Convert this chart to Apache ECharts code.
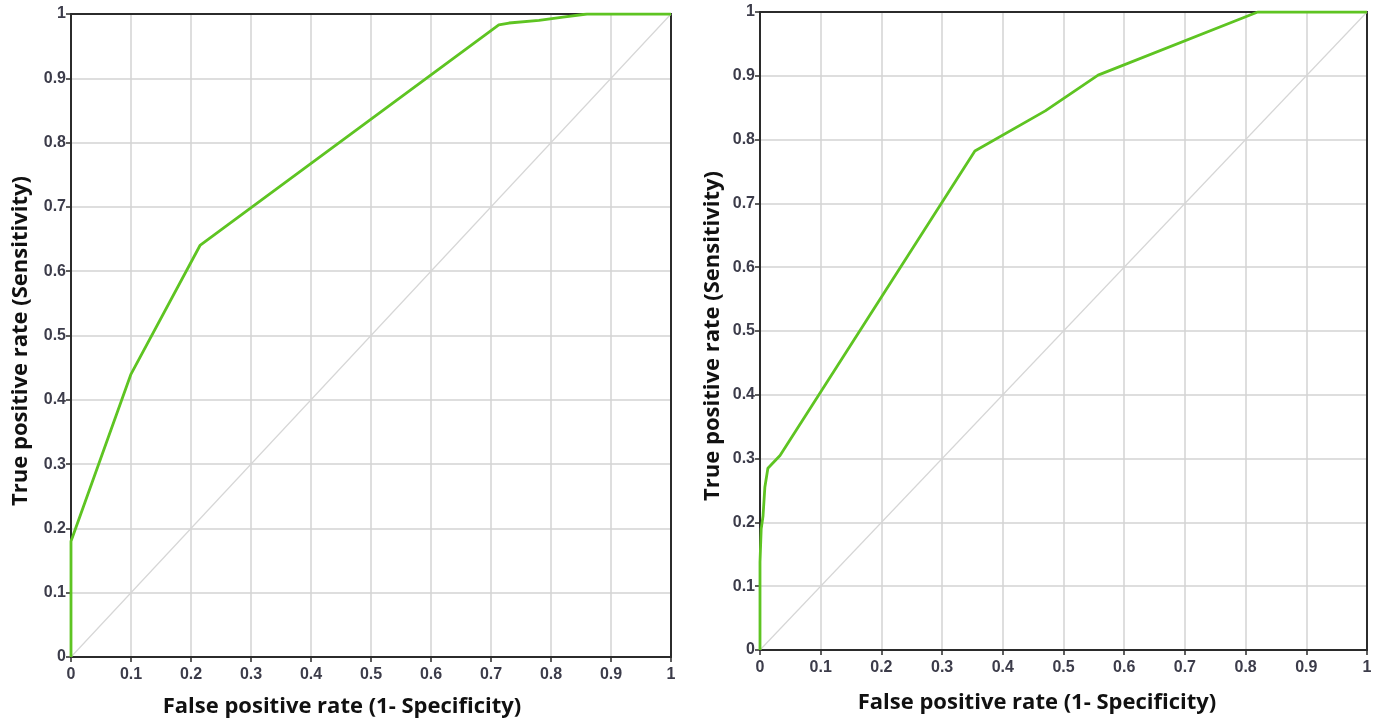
<!DOCTYPE html>
<html>
<head>
<meta charset="utf-8">
<style>
  html, body { margin: 0; padding: 0; background: #ffffff; }
  #chart { width: 1378px; height: 721px; }
</style>
<script src="https://cdn.jsdelivr.net/npm/echarts@6/dist/echarts.min.js"></script>
</head>
<body>
<div id="chart"></div>
<script>
// ROC curve, left model: false positive rate vs true positive rate
const fprLeft = [0, 0, 0.1, 0.215, 0.713, 0.73, 0.78, 0.82, 0.86, 1];
const tprLeft = [0, 0.18, 0.44, 0.64, 0.983, 0.986, 0.99, 0.995, 1, 1];

// ROC curve, right model
const fprRight = [0, 0, 0.002, 0.002, 0.005, 0.008, 0.013, 0.033, 0.354, 0.47, 0.557, 0.82, 1];
const tprRight = [0, 0.138, 0.14, 0.19, 0.21, 0.255, 0.285, 0.305, 0.782, 0.845, 0.901, 1, 1];

// Chance line
const chanceX = [0, 1];
const chanceY = [0, 1];

const xName = 'False positive rate (1- Specificity)';
const yName = 'True positive rate (Sensitivity)';

function pairs(xs, ys) { return xs.map((x, i) => [x, ys[i]]); }

const ink = '#2b2b2b';
const gridColor = '#d3d3d3';
const curveColor = '#5ec422';
const nameFont = 'bold 22px "Open Sans"';
const tickFont = { fontFamily: 'Liberation Sans', fontWeight: 'bold', fontSize: 16, color: '#3c3c4a' };

function xAxisFor(idx) {
  return {
    type: 'value', gridIndex: idx, min: 0, max: 1, interval: 0.1,
    axisLine: { show: true, onZero: false, lineStyle: { color: ink, width: 2 } },
    axisTick: { show: true, inside: false, length: 5, lineStyle: { color: ink, width: 1.5 } },
    axisLabel: Object.assign({ margin: 10 }, tickFont),
    splitLine: { show: true, lineStyle: { color: gridColor, width: 1.5 } }
  };
}
function yAxisFor(idx) {
  return {
    type: 'value', gridIndex: idx, min: 0, max: 1, interval: 0.1,
    axisLine: { show: true, onZero: false, lineStyle: { color: ink, width: 2 } },
    axisTick: { show: true, inside: false, length: 5, lineStyle: { color: ink, width: 1.5 } },
    axisLabel: Object.assign({ margin: 5 }, tickFont),
    splitLine: { show: true, lineStyle: { color: gridColor, width: 1.5 } }
  };
}
// Plain frame edges on the opposite sides of each plot
function frameAxis(kind, idx) {
  return {
    type: 'value', gridIndex: idx, min: 0, max: 1,
    position: kind === 'x' ? 'top' : 'right',
    axisLine: { show: true, onZero: false, lineStyle: { color: ink, width: 2 } },
    axisTick: { show: false }, axisLabel: { show: false }, splitLine: { show: false }
  };
}
function line(xi, yi, data, color, width, z) {
  return {
    type: 'line', xAxisIndex: xi, yAxisIndex: yi, data: data,
    showSymbol: false, symbol: 'none', z: z, silent: true,
    lineStyle: { color: color, width: width }
  };
}
function title(text, x, y, vertical) {
  return {
    type: 'text', x: x, y: y, rotation: vertical ? Math.PI / 2 : 0,
    style: { text: text, font: nameFont, fill: '#111', align: 'center', verticalAlign: 'middle' }
  };
}

const chart = echarts.init(document.getElementById('chart'), null, { renderer: 'canvas' });
chart.setOption({
  animation: false,
  backgroundColor: '#ffffff',
  grid: [
    { left: 71, top: 14, width: 600, height: 643 },
    { left: 760, top: 12, width: 607, height: 638 }
  ],
  xAxis: [xAxisFor(0), xAxisFor(1), frameAxis('x', 0), frameAxis('x', 1)],
  yAxis: [yAxisFor(0), yAxisFor(1), frameAxis('y', 0), frameAxis('y', 1)],
  series: [
    line(0, 0, pairs(chanceX, chanceY), '#d6d6d6', 1.2, 2),
    line(0, 0, pairs(fprLeft, tprLeft), curveColor, 2.8, 5),
    line(1, 1, pairs(chanceX, chanceY), '#d6d6d6', 1.2, 2),
    line(1, 1, pairs(fprRight, tprRight), curveColor, 2.8, 5)
  ],
  graphic: [
    title(xName, 342, 707, false),
    title(xName, 1037, 703, false),
    title(yName, 21, 341, true),
    title(yName, 713, 336, true)
  ]
});
</script>
</body>
</html>
